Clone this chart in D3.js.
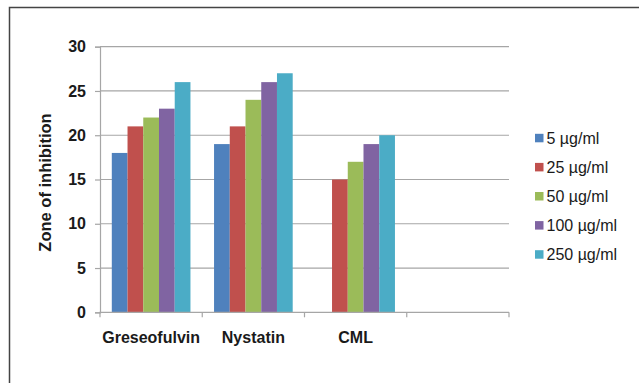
<!DOCTYPE html>
<html>
<head>
<meta charset="utf-8">
<script src="https://cdn.jsdelivr.net/npm/d3@7/dist/d3.min.js"></script>
<style>
  html, body { margin: 0; padding: 0; background: #fff; }
  svg { display: block; font-family: "Liberation Sans", Arial, sans-serif; }
</style>
</head>
<body>
<svg id="chart" width="639" height="383"></svg>
<script>
// Antifungal activity: zone of inhibition by compound and concentration
const categories = ["Greseofulvin", "Nystatin", "CML", ""];
const seriesNames = ["5 µg/ml", "25 µg/ml", "50 µg/ml", "100 µg/ml", "250 µg/ml"];
const conc5   = [18, 19, null, null];
const conc25  = [21, 21, 15, null];
const conc50  = [22, 24, 17, null];
const conc100 = [23, 26, 19, null];
const conc250 = [26, 27, 20, null];
const yTicks = [0, 5, 10, 15, 20, 25, 30];
const colors = ["#4F81BD", "#C0504D", "#9BBB59", "#8064A2", "#4BACC6"];

const seriesValues = [conc5, conc25, conc50, conc100, conc250];

const svg = d3.select("#chart");
const W = 639, H = 383;

// frame (top and left edges)
svg.append("path")
  .attr("d", `M9.5,${H} V7.5 H${W}`)
  .attr("fill", "none")
  .attr("stroke", "#444")
  .attr("stroke-width", 1.5);

const plot = { left: 100, right: 509, top: 46.7, bottom: 312.3 };

const x = d3.scaleBand()
  .domain(d3.range(categories.length))
  .range([plot.left, plot.right])
  .paddingInner(0).paddingOuter(0);

const y = d3.scaleLinear().domain([0, 30]).range([plot.bottom, plot.top]);

// bars fill 5 of 6.5 slot units in each category (gap = 1.5 bar widths)
const slot = x.bandwidth() / 6.5;
const xs = d3.scaleBand()
  .domain(d3.range(seriesNames.length))
  .range([slot * 0.75, slot * 5.75])
  .padding(0);

// horizontal gridlines
svg.append("g")
  .selectAll("line")
  .data(yTicks.filter(t => t > 0))
  .join("line")
  .attr("x1", plot.left).attr("x2", plot.right)
  .attr("y1", d => y(d)).attr("y2", d => y(d))
  .attr("stroke", "#a6a6a6")
  .attr("stroke-width", 1.2);

// bars
const groups = svg.append("g")
  .selectAll("g")
  .data(seriesValues)
  .join("g")
  .attr("fill", (d, i) => colors[i]);

groups.each(function (vals, si) {
  d3.select(this).selectAll("rect")
    .data(vals.map((v, ci) => ({ v, ci })).filter(d => d.v != null))
    .join("rect")
    .attr("x", d => x(d.ci) + xs(si))
    .attr("width", xs.bandwidth())
    .attr("y", d => y(d.v))
    .attr("height", d => y(0) - y(d.v));
});

// y axis
const yAxis = svg.append("g")
  .attr("transform", `translate(${plot.left},0)`)
  .call(d3.axisLeft(y).tickValues(yTicks).tickSize(5).tickPadding(9));
yAxis.select(".domain").attr("stroke", "#a6a6a6").attr("stroke-width", 1.2);
yAxis.selectAll(".tick line").attr("stroke", "#a6a6a6").attr("stroke-width", 1.2);
yAxis.selectAll(".tick text")
  .attr("font-size", 16).attr("font-weight", "bold")
  .attr("fill", "#1a1a1a")
  .attr("font-family", "Liberation Sans, Arial, sans-serif");

// x axis: ticks sit on category boundaries
const xAxisG = svg.append("g")
  .attr("transform", `translate(0,${plot.bottom})`);
const edges = d3.range(categories.length + 1).map(i =>
  i < categories.length ? x(i) : x(categories.length - 1) + x.bandwidth());
xAxisG.append("line")
  .attr("x1", plot.left - 0.6).attr("x2", plot.right)
  .attr("stroke", "#a6a6a6").attr("stroke-width", 1.2);
xAxisG.selectAll("line.tk")
  .data(edges)
  .join("line")
  .attr("class", "tk")
  .attr("x1", d => d).attr("x2", d => d)
  .attr("y1", 0).attr("y2", 5)
  .attr("stroke", "#a6a6a6").attr("stroke-width", 1.2);
xAxisG.selectAll("text")
  .data(categories)
  .join("text")
  .attr("x", (d, i) => x(i) + x.bandwidth() / 2)
  .attr("y", 31)
  .attr("text-anchor", "middle")
  .attr("font-size", 16).attr("font-weight", "bold")
  .attr("fill", "#1a1a1a")
  .text(d => d);

// y axis title
svg.append("text")
  .attr("transform", `translate(51,${(plot.top + plot.bottom) / 2 + 3}) rotate(-90)`)
  .attr("text-anchor", "middle")
  .attr("font-size", 16.5).attr("font-weight", "bold")
  .attr("fill", "#1a1a1a")
  .text("Zone of inhibition");

// legend
const legend = svg.append("g")
  .selectAll("g")
  .data(seriesNames)
  .join("g")
  .attr("transform", (d, i) => `translate(535,${138.3 + i * 29.1})`);
legend.append("rect")
  .attr("x", 0).attr("y", -4.5)
  .attr("width", 8.5).attr("height", 8.5)
  .attr("fill", (d, i) => colors[i]);
legend.append("text")
  .attr("x", 11.5).attr("y", 0)
  .attr("dy", "0.36em")
  .attr("font-size", 16)
  .attr("fill", "#1a1a1a")
  .text(d => d);
</script>
</body>
</html>
